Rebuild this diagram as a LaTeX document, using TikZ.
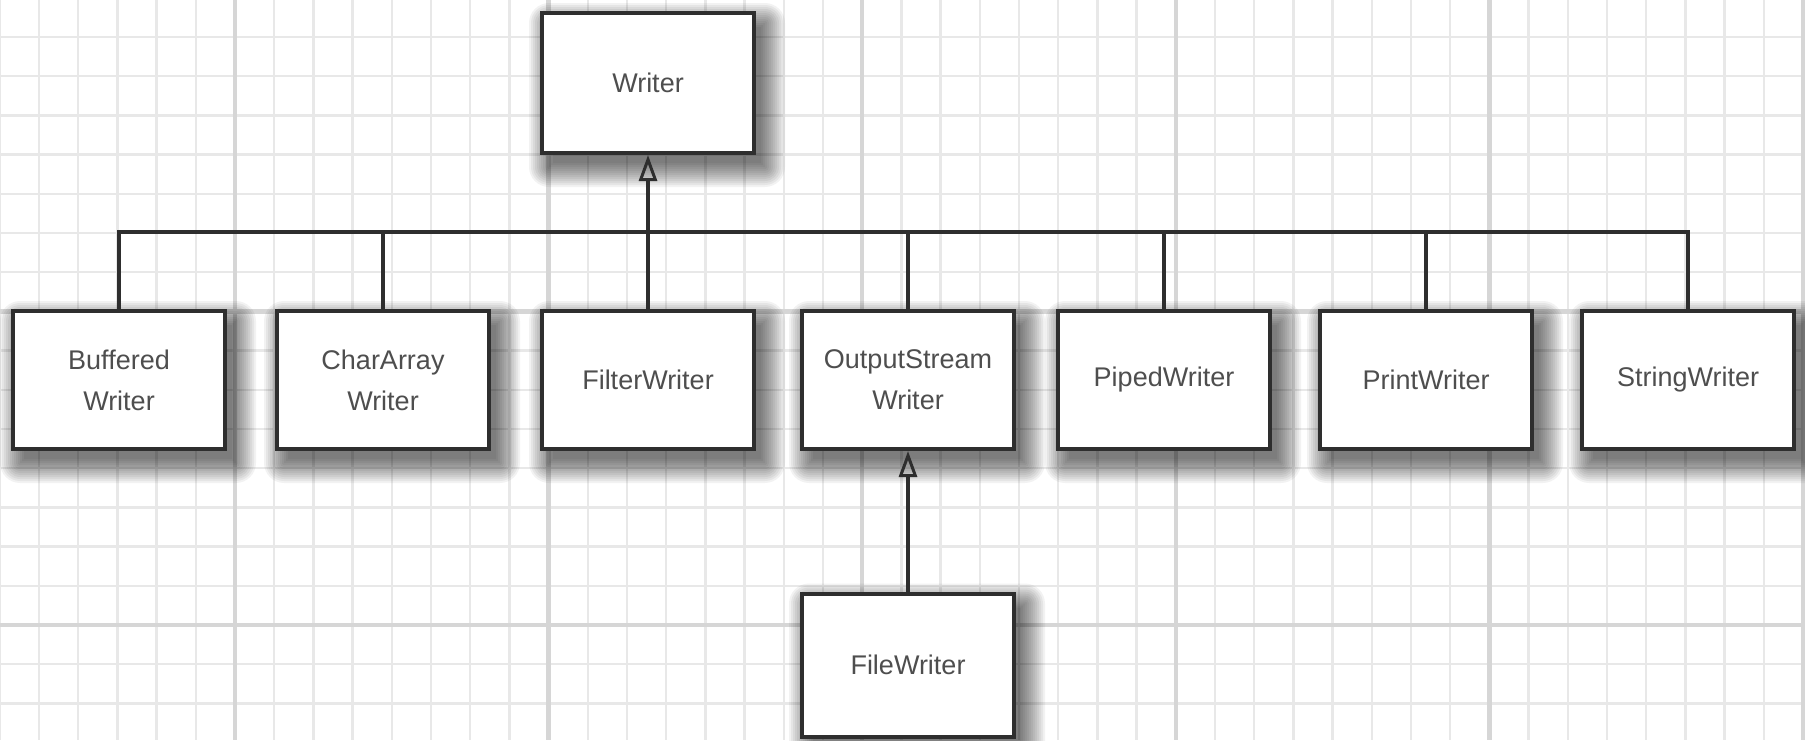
\documentclass[tikz,border=0pt]{standalone}
\usepackage{fontspec}
\setmainfont{Liberation Sans}
\usetikzlibrary{arrows.meta}
\definecolor{gridminor}{HTML}{E8E8E8}
\definecolor{gridmajor}{HTML}{D6D6D6}
\definecolor{labelgray}{HTML}{4E4E4E}
\definecolor{edgegray}{HTML}{2E2E2E}
\pgfdeclarelayer{paper}
\pgfdeclarelayer{shade}
\pgfsetlayers{paper,shade,main}

\begin{document}
\begin{tikzpicture}[x=1pt,y=-1pt,
  classbox/.style={draw=edgegray, line width=4pt, fill=white,
    minimum width=212pt, minimum height=138pt, inner sep=0pt,
    align=center, text=labelgray, font=\fontsize{27}{41}\selectfont},
  link/.style={draw=edgegray, line width=3.5pt},
  inherit/.style={link, -{Triangle[open,length=26pt,width=18pt,line width=3pt]}},
  minorline/.style={draw=gridminor, line width=2.5pt},
  majorline/.style={draw=gridmajor, line width=4.5pt}
]
\useasboundingbox (0,0) rectangle (1805,740);

% squared paper background
\begin{pgfonlayer}{paper}
  \fill[white] (0,0) rectangle (1805,740);
  \clip (0,0) rectangle (1805,740);
  \foreach \i in {-6,...,40} {
    \draw[minorline] ({235+39.2*\i},0) -- ({235+39.2*\i},740);
  }
  \foreach \j in {0,...,19} {
    \draw[minorline] (0,{-2.2+39.2*\j}) -- (1805,{-2.2+39.2*\j});
  }
  \foreach \i in {0,8,16,24,32,40} {
    \draw[majorline] ({235+39.2*\i},0) -- ({235+39.2*\i},740);
  }
  \foreach \j in {0,8,16} {
    \draw[majorline] (0,{-2.2+39.2*\j}) -- (1805,{-2.2+39.2*\j});
  }
\end{pgfonlayer}

% classes
\node[classbox, minimum height=140pt] (writer) at (648,83) {Writer};
\node[classbox] (buffered)  at (119,380)  {Buffered\\Writer};
\node[classbox] (chararray) at (383,380)  {CharArray\\Writer};
\node[classbox] (filter)    at (648,380)  {FilterWriter};
\node[classbox] (osw)       at (908,380)  {OutputStream\\Writer};
\node[classbox] (piped)     at (1164,380) {PipedWriter};
\node[classbox] (print)     at (1426,380) {PrintWriter};
\node[classbox] (string)    at (1688,380) {StringWriter};
\node[classbox, minimum height=143pt] (file) at (908,665) {FileWriter};

% soft drop shadows, built from stacked translucent rectangles
\begin{pgfonlayer}{shade}
  \foreach \n in {writer,buffered,chararray,filter,osw,piped,print,string,file} {
    \foreach \r in {-4,-2,...,20} {
      \fill[black, opacity=0.05, rounded corners={max(\r,0)*1pt+0.1pt}]
        ([shift={(9pt-\r pt,-12pt-\r pt)}]\n.south west) rectangle
        ([shift={(9pt+\r pt,-12pt+\r pt)}]\n.north east);
    }
  }
\end{pgfonlayer}

% inheritance bus
\coordinate (bus) at (0,232);
\draw[link] (buffered.north) -- (buffered.north |- bus) -- (string.north |- bus) -- (string.north);
\foreach \n in {chararray,osw,piped,print} {
  \draw[link] (\n.north) -- (\n.north |- bus);
}
\draw[inherit] (filter.north) -- (writer.south);
\draw[inherit] (file.north) -- (osw.south);
\end{tikzpicture}
\end{document}
